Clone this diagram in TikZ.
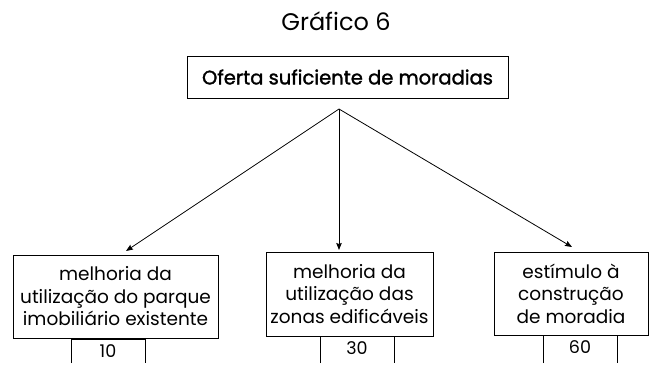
\documentclass[tikz,border=0pt]{standalone}
\usepackage{fontspec}
\setmainfont{Poppins}
\usetikzlibrary{arrows.meta}
\usetikzlibrary{positioning}
\tikzset{
	caixa/.style={draw, line width=0.8, align=center, inner sep=0pt, font=\fontsize{18.5}{22.5}\selectfont},
	seta/.style={line width=0.8, arrows={-Stealth[length=7, width=5.5, inset=1]}}
}

\begin{document}
\begin{tikzpicture}[x=1pt, y=-1pt]
    % page frame as in the scan
    \useasboundingbox (0,0) rectangle (649,365);
    \node (titulo) at (336,21) {\fontsize{24}{26}\selectfont Gráfico 6};
    \node[caixa, minimum width=321, minimum height=42, font=\fontsize{19.5}{22}\selectfont\addfontfeature{FakeBold=1.5}] (oferta) at (347.5,77) {Oferta suficiente de moradias};
    
    % the three measures
    \node[caixa, minimum width=205, minimum height=83] (parque) at (115.5,296.5) {melhoria da\\utilização do parque\\imobiliário existente};
    \node[caixa, minimum width=167, minimum height=84] (zonas) at (349.5,294) {melhoria da\\utilização das\\zonas edificáveis};
    \node[caixa, minimum width=154, minimum height=83] (construcao) at (571,293.5) {estímulo à\\construção\\de moradia};
    
    \coordinate (origem) at (339,109);
    \coordinate (pontaA) at (126,251);
    \coordinate (pontaB) at (339,250);
    \coordinate (pontaC) at (572,247);
    \draw[seta] (origem) -- (pontaA);
    \draw[seta] (origem) -- (pontaB);
    \draw[seta] (origem) -- (pontaC);
    
    % weights below each box
    \foreach \xa/\xb/\yt/\peso/\nome in {71/145/339/10/pesoA, 320/394/336/30/pesoB, 543/617/335/60/pesoC} {
        \draw[line width=0.8] (\xa,363) -- (\xa,\yt) -- (\xb,\yt) -- (\xb,363);
        \node[font=\fontsize{17.5}{19}\selectfont] (\nome) at ({(\xa+\xb)/2},{\yt+12.5}) {\peso};
    }
\end{tikzpicture}
\end{document}
